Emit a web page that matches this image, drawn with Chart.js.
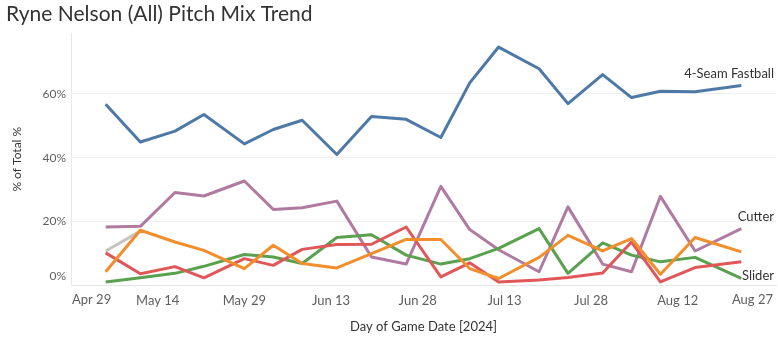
<!DOCTYPE html>
<html>
<head>
<meta charset="utf-8">
<script src="https://cdn.jsdelivr.net/npm/chart.js@4.4.1/dist/chart.umd.min.js"></script>
<style>
    html, body { margin: 0; padding: 0; background: #fff; }
    #wrap { position: relative; width: 778px; height: 344px; }
</style>
</head>
<body>
<div id="wrap"><canvas id="chart-pitch-mix"></canvas></div>
<script>
/* Ryne Nelson (All) Pitch Mix Trend */

// Game dates (2024)
const gameDates = [
    '2024-05-05', '2024-05-11', '2024-05-17', '2024-05-22', '2024-05-29',
    '2024-06-03', '2024-06-08', '2024-06-14', '2024-06-20', '2024-06-26',
    '2024-07-02', '2024-07-07', '2024-07-12', '2024-07-19', '2024-07-24',
    '2024-07-30', '2024-08-04', '2024-08-09', '2024-08-15', '2024-08-23'
];

// % of total pitches, one value per game
const fourSeam  = [56.7, 44.9, 48.3, 53.5, 44.3, 48.8, 51.7, 41.0, 52.9, 52.0, 46.3, 63.4, 74.6, 67.8, 56.9, 66.0, 58.8, 60.8, 60.6, 62.6];
const cutter    = [18.3, 18.5, 29.1, 28.0, 32.7, 23.8, 24.3, 26.4, 8.9, 6.7, 31.0, 17.5, 11.2, 4.3, 24.6, 6.7, 4.3, 27.9, 10.8, 17.8];
const slider    = [1.1, 2.4, 3.8, 6.0, 9.7, 8.9, 6.9, 15.0, 15.9, 9.5, 6.7, 8.4, 11.6, 17.8, 3.8, 13.3, 9.5, 7.4, 8.8, 2.2];
const changeup  = [10.2, 3.7, 5.9, 2.4, 8.4, 6.3, 11.3, 12.8, 12.9, 18.3, 2.7, 7.1, 1.1, 1.7, 2.5, 3.9, 13.6, 1.1, 5.6, 7.4];
const curveball = [4.3, 17.3, 13.6, 11.0, 5.3, 12.6, 6.9, 5.5, 10.0, 14.4, 14.4, 5.3, 2.2, 8.8, 15.7, 10.8, 14.7, 3.5, 15.0, 10.5];
const sinker    = [10.8, 17.0, null, null, null, null, null, null, null, null, null, null, null, null, null, null, null, null, null, null];

// Axis ticks
const dateTicks = ['Apr 29', 'May 14', 'May 29', 'Jun 13', 'Jun 28', 'Jul 13', 'Jul 28', 'Aug 12', 'Aug 27'];
const pctTicks = [0, 20, 40, 60];

const AXIS_START = Date.UTC(2024, 3, 29);
const DAY_MS = 86400000;

function dayOffset(iso) {
    const p = iso.split('-').map(Number);
    return Math.round((Date.UTC(p[0], p[1] - 1, p[2]) - AXIS_START) / DAY_MS);
}

function toPoints(values) {
    return gameDates.map((d, i) => ({ x: dayOffset(d), y: values[i] }));
}

function makeSeries(label, values, color) {
    return {
        label: label,
        data: toPoints(values),
        borderColor: color,
        backgroundColor: color,
        borderWidth: 3,
        pointRadius: 0,
        pointHoverRadius: 0,
        tension: 0,
        spanGaps: false,
        borderJoinStyle: 'round'
    };
}

// Text drawn directly on the canvas: title, axis titles, edge tick labels, line labels
const textPlugin = {
    id: 'chartText',
    afterDraw(chart) {
        const ctx = chart.ctx;
        const area = chart.chartArea;
        const ys = chart.scales.y;
        ctx.save();

        // Title
        ctx.font = '21px Lato';
        ctx.fillStyle = '#333';
        ctx.textAlign = 'left';
        ctx.textBaseline = 'middle';
        ctx.fillText('Ryne Nelson (All) Pitch Mix Trend', 6, 14);

        // Y axis title
        ctx.font = '12px Lato';
        ctx.save();
        ctx.translate(17, (area.top + area.bottom) / 2);
        ctx.rotate(-Math.PI / 2);
        ctx.textAlign = 'center';
        ctx.fillText('% of Total %', 0, 0);
        ctx.restore();

        // X axis title
        ctx.font = '13px Lato';
        ctx.textAlign = 'center';
        ctx.fillText('Day of Game Date [2024]', (area.left + area.right) / 2, 327);

        // 0% label sits inside the pane
        ctx.fillStyle = '#5f5f5f';
        ctx.font = '12px Lato';
        ctx.textAlign = 'right';
        ctx.fillText('0%', 66, ys.getPixelForValue(0) - 9);

        // First / last date labels are pushed inside the pane
        ctx.font = '13px Lato';
        ctx.textAlign = 'left';
        ctx.fillText(dateTicks[0], area.left + 1, 300);
        ctx.textAlign = 'right';
        ctx.fillText(dateTicks[dateTicks.length - 1], area.right - 3, 300);

        // Line end labels
        ctx.fillStyle = '#333';
        ctx.textAlign = 'right';
        const n = gameDates.length - 1;
        const labels = [
            { text: '4-Seam Fastball', v: fourSeam[n], dy: -12 },
            { text: 'Cutter', v: cutter[n], dy: -12 },
            { text: 'Slider', v: slider[n], dy: -3 }
        ];
        labels.forEach(l => {
            ctx.fillText(l.text, area.right - 2, ys.getPixelForValue(l.v) + l.dy);
        });
        ctx.restore();
    }
};

const canvas = document.getElementById('chart-pitch-mix');
const chart = new Chart(canvas.getContext('2d'), {
    type: 'line',
    data: {
        datasets: [
            makeSeries('Curveball', curveball, '#f28e2b'),
            makeSeries('Changeup', changeup, '#e15759'),
            makeSeries('Slider', slider, '#59a14f'),
            makeSeries('Cutter', cutter, '#b07aa1'),
            makeSeries('Sinker', sinker, '#c9c2bf'),
            makeSeries('4-Seam Fastball', fourSeam, '#4e79a7')
        ]
    },
    options: {
        responsive: true,
        maintainAspectRatio: false,
        animation: false,
        layout: { padding: { top: 33, right: 2, left: 0, bottom: 0 } },
        plugins: {
            legend: { display: false },
            tooltip: { enabled: false }
        },
        scales: {
            x: {
                type: 'linear',
                min: 0,
                max: 122,
                afterBuildTicks: scale => {
                    scale.ticks = dateTicks.map((t, i) => ({ value: i * 15 }));
                },
                afterFit: scale => { scale.height = 58.5; },
                grid: { display: false, drawTicks: false },
                border: { display: true, color: '#e4e4e4', width: 1 },
                ticks: {
                    padding: 8,
                    color: '#5f5f5f',
                    font: { family: 'Lato', size: 13 },
                    maxRotation: 0,
                    autoSkip: false,
                    callback: (v, i) => (i === 0 || i === dateTicks.length - 1) ? '' : dateTicks[i]
                }
            },
            y: {
                min: 0,
                max: 79,
                afterBuildTicks: scale => {
                    scale.ticks = pctTicks.map(v => ({ value: v }));
                },
                afterFit: scale => { scale.width = 71; },
                grid: { color: '#efefef', drawTicks: false },
                border: { display: true, color: '#e8e8e8' },
                ticks: {
                    padding: 5,
                    color: '#5f5f5f',
                    font: { family: 'Lato', size: 12 },
                    callback: v => v === 0 ? '' : v + '%'
                }
            }
        }
    },
    plugins: [textPlugin]
});
</script>
</body>
</html>
